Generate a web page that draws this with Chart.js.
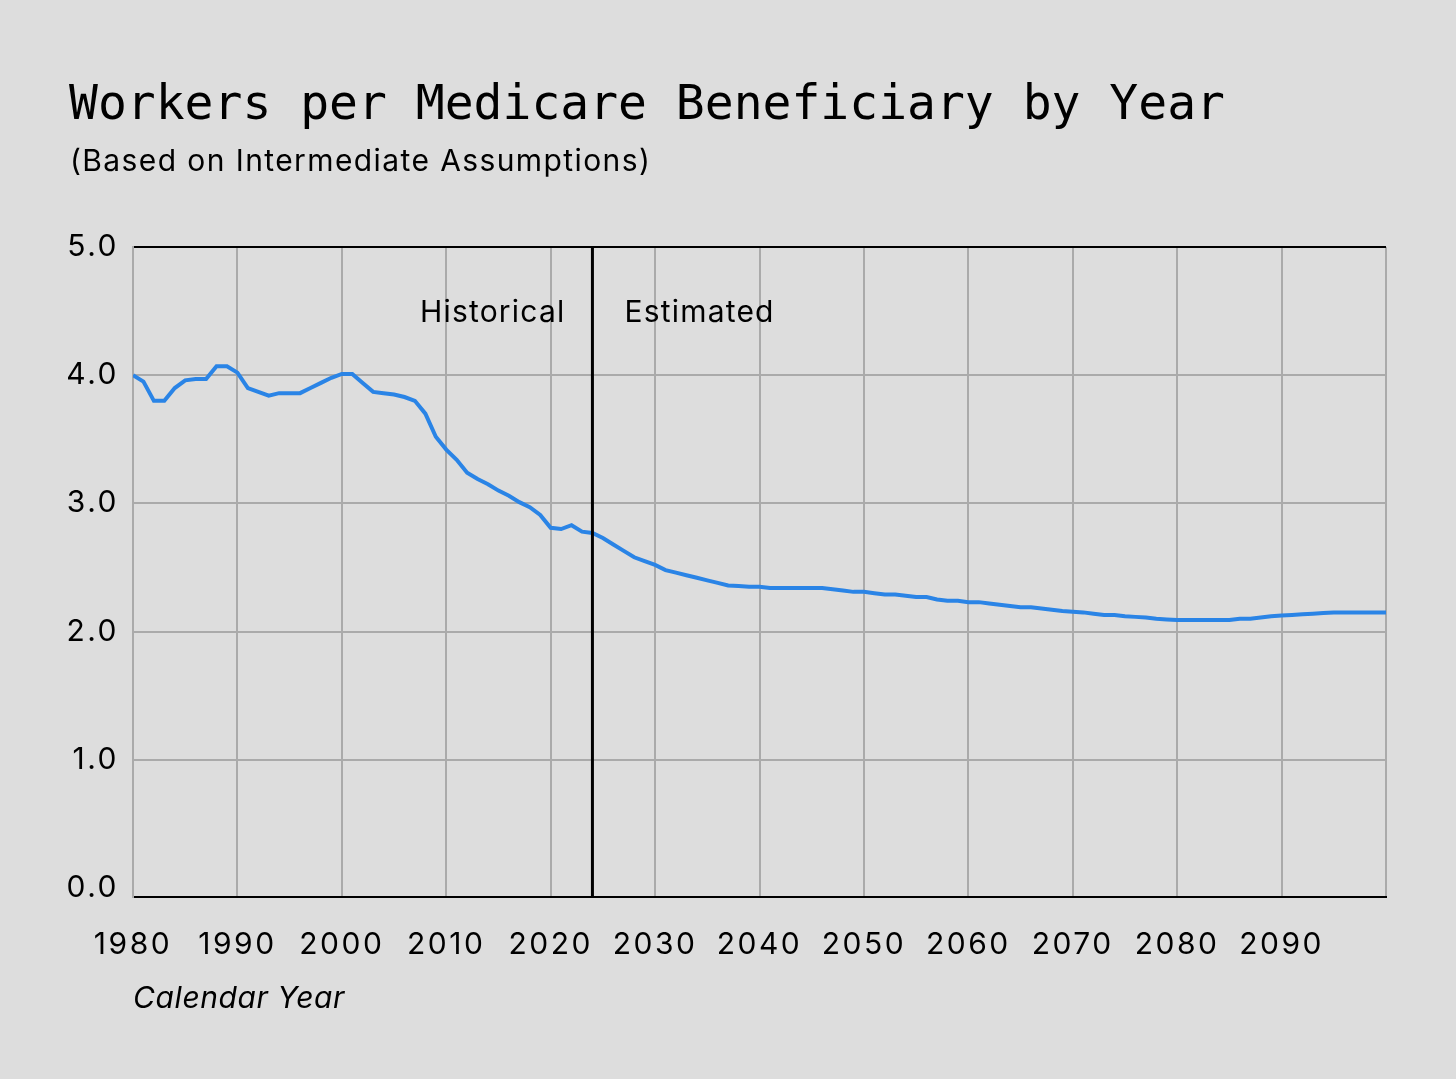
<!DOCTYPE html>
<html>
<head>
<meta charset="utf-8">
<script src="https://cdn.jsdelivr.net/npm/chart.js@4"></script>
<style>
  html, body { margin: 0; padding: 0; background: #dddddd; }
  #wrap { position: relative; width: 1456px; height: 1079px; }
  #chart { position: absolute; left: 0; top: 0; }
  .title { position: absolute; left: 69px; top: 74px; font-family: "DejaVu Sans Mono", monospace; font-size: 48px; color: #000; white-space: nowrap; }
  .subtitle { position: absolute; left: 70px; top: 142px; font-family: Inter, sans-serif; font-size: 30px; letter-spacing: 1.4px; color: #000; white-space: nowrap; }
  .xtitle { position: absolute; left: 133px; top: 979px; font-family: Inter, sans-serif; font-style: italic; font-size: 30px; letter-spacing: 0.6px; color: #000; white-space: nowrap; }
</style>
</head>
<body>
<div id="wrap">
  <canvas id="chart" width="1456" height="1079"></canvas>
  <div class="title">Workers per Medicare Beneficiary by Year</div>
  <div class="subtitle">(Based on Intermediate Assumptions)</div>
  <div class="xtitle">Calendar Year</div>
</div>
<script>
// workers per beneficiary, 1980-2024 (historical)
const historical = [
  4.00, 3.95, 3.80, 3.80, 3.90, 3.96, 3.97, 3.97, 4.07, 4.07,
  4.02, 3.90, 3.87, 3.84, 3.86, 3.86, 3.86, 3.90, 3.94, 3.98,
  4.01, 4.01, 3.94, 3.87, 3.86, 3.85, 3.83, 3.80, 3.70, 3.52,
  3.42, 3.34, 3.24, 3.19, 3.15, 3.10, 3.06, 3.01, 2.97, 2.91,
  2.81, 2.80, 2.83, 2.78, 2.77
];
// 2025-2100 (estimated)
const estimated = [
  2.73, 2.68, 2.63, 2.58, 2.55, 2.52, 2.48, 2.46, 2.44, 2.42,
  2.40, 2.38, 2.36, 2.355, 2.35, 2.35, 2.34, 2.34, 2.34, 2.34,
  2.34, 2.34, 2.33, 2.32, 2.31, 2.31, 2.30, 2.29, 2.29, 2.28,
  2.27, 2.27, 2.25, 2.24, 2.24, 2.23, 2.23, 2.22, 2.21, 2.20,
  2.19, 2.19, 2.18, 2.17, 2.16, 2.155, 2.15, 2.14, 2.13, 2.13,
  2.12, 2.115, 2.11, 2.10, 2.095, 2.09, 2.09, 2.09, 2.09, 2.09,
  2.09, 2.10, 2.10, 2.11, 2.12, 2.125, 2.13, 2.135, 2.14, 2.145,
  2.15, 2.15, 2.15, 2.15, 2.15, 2.15
];
const firstYear = 1980;
const splitYear = 2024;
const yTicks = [0, 1, 2, 3, 4, 5];
const xTickStep = 10;

const values = historical.concat(estimated);
const points = values.map(function(v, i) { return { x: firstYear + i, y: v }; });

const tickFont = { family: 'Inter, sans-serif', size: 30 };

// the reference type is set wider than Inter, so space the tick labels out a bit
const wideTicks = {
  id: 'wideTicks',
  beforeLayout: function(chart) { chart.ctx.letterSpacing = '2.5px'; },
  beforeDraw: function(chart) { chart.ctx.letterSpacing = '2.5px'; }
};

const splitLine = {
  id: 'splitLine',
  afterDatasetsDraw: function(chart) {
    const ctx = chart.ctx;
    const area = chart.chartArea;
    const x = chart.scales.x.getPixelForValue(splitYear);
    const y = chart.scales.y.getPixelForValue(4.5) + 2;
    ctx.save();
    ctx.strokeStyle = '#000';
    ctx.lineWidth = 3;
    ctx.beginPath();
    ctx.moveTo(x, area.top);
    ctx.lineTo(x, area.bottom);
    ctx.stroke();
    ctx.fillStyle = '#000';
    ctx.letterSpacing = '1.2px';
    ctx.font = '30px Inter, sans-serif';
    ctx.textBaseline = 'middle';
    ctx.textAlign = 'right';
    ctx.fillText('Historical', x - 27, y);
    ctx.textAlign = 'left';
    ctx.fillText('Estimated', x + 32, y);
    ctx.restore();
  }
};

new Chart(document.getElementById('chart'), {
  type: 'line',
  data: {
    datasets: [{
      data: points,
      borderColor: 'rgb(42, 132, 230)',
      borderWidth: 4,
      pointRadius: 0,
      tension: 0,
      fill: false
    }]
  },
  options: {
    responsive: false,
    animation: false,
    events: [],
    layout: { padding: { left: 0, right: 70, top: 247, bottom: 0 } },
    plugins: { legend: { display: false }, tooltip: { enabled: false } },
    scales: {
      x: {
        type: 'linear',
        min: 1980,
        max: 2100,
        ticks: {
          stepSize: xTickStep,
          color: '#000',
          font: tickFont,
          padding: 30,
          maxRotation: 0,
          callback: function(v) { return v >= 2100 ? '' : String(v); }
        },
        grid: { color: '#aaaaaa', lineWidth: 2, drawTicks: false },
        border: { display: true, color: '#000', width: 2 },
        afterFit: function(axis) { axis.height = 182; }
      },
      y: {
        min: -0.07,
        max: 5,
        afterBuildTicks: function(axis) {
          axis.ticks = yTicks.map(function(v) { return { value: v }; });
        },
        ticks: {
          color: '#000',
          font: tickFont,
          padding: 14,
          callback: function(v) { return v.toFixed(1); }
        },
        grid: {
          drawTicks: false,
          lineWidth: 2,
          color: function(c) {
            if (c.tick.value === 0) return 'rgba(0,0,0,0)';
            if (c.tick.value === 5) return '#000';
            return '#aaaaaa';
          }
        },
        border: { display: true, color: '#aaaaaa', width: 2 },
        afterFit: function(axis) { axis.width = 133; }
      }
    }
  },
  plugins: [wideTicks, splitLine]
});
</script>
</body>
</html>
